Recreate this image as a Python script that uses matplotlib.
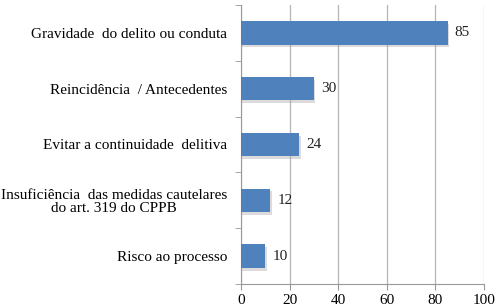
import matplotlib.pyplot as plt
import numpy as np

categories = ["Gravidade  do delito ou conduta", "Reincidência  / Antecedentes",
              "Evitar a continuidade  delitiva",
              "Insuficiência  das medidas cautelares\ndo art. 319 do CPPB",
              "Risco ao processo"]
values = [85, 30, 24, 12, 10]
xticks = [0, 20, 40, 60, 80, 100]

plt.rcParams['font.family'] = ['Liberation Serif', 'DejaVu Serif']
fig = plt.figure(figsize=(5, 3.08), dpi=100)
ax = fig.add_axes([0.482, 0.078, 0.486, 0.906])
y = np.arange(len(categories))
# shadow
ax.barh(y + 0.05, values, height=0.42, left=0.6, color='#9a9a9a', alpha=0.35, zorder=2)
ax.barh(y, values, height=0.42, color='#4F81BD', zorder=3)
for yi, v in zip(y, values):
    ax.text(v + 3, yi, str(v), va='center', ha='left', fontsize=11, color='#222222')
ax.set_ylim(len(categories) - 0.5, -0.5)
ax.set_xlim(0, 100)
ax.set_xticks(xticks)
ax.set_xticklabels([str(t) for t in xticks], fontsize=11)
ax.set_yticks(y)
ax.set_yticklabels(categories, fontsize=11, linespacing=1.0, multialignment='center')
ax.tick_params(axis='y', length=0, pad=10)
ax.set_yticks(np.arange(-0.5, len(categories)), minor=True)
ax.tick_params(axis='y', which='minor', length=4, color='#999999', direction='out')
ax.tick_params(axis='x', length=4, color='#999999', pad=3)
ax.grid(axis='x', color='#b5b5b5', linewidth=0.9, zorder=0)
for s in ['top', 'right']:
    ax.spines[s].set_visible(False)
for s in ['left', 'bottom']:
    ax.spines[s].set_color('#999999')
fig.savefig('out.png', dpi=100)
